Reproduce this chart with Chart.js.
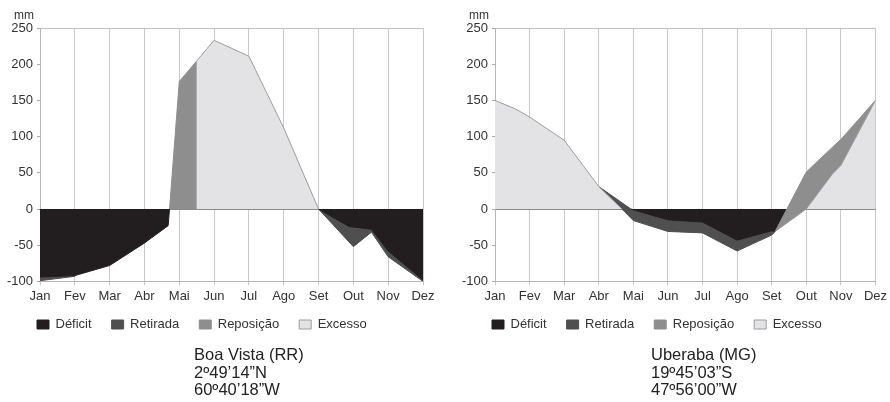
<!DOCTYPE html>
<html>
<head>
<meta charset="utf-8">
<script src="https://cdn.jsdelivr.net/npm/chart.js@4.4.1/dist/chart.umd.min.js"></script>
<style>
  body { margin: 0; background: #fff; font-family: "Liberation Sans", Arial, sans-serif; }
  .wrap { position: relative; width: 890px; height: 402px; }
  .box { position: absolute; top: 0; width: 445px; height: 350px; }
  .place { position: absolute; top: 346px; font-size: 16.5px; line-height: 17.5px; color: #222; }
</style>
</head>
<body>
<div class="wrap">
  <div class="box" style="left:0"><canvas id="bv"></canvas></div>
  <div class="box" style="left:445px"><canvas id="ub"></canvas></div>
  <div class="place" style="left:194px">Boa Vista (RR)<br>2º49’14”N<br>60º40’18”W</div>
  <div class="place" style="left:651px">Uberaba (MG)<br>19º45’03”S<br>47º56’00”W</div>
</div>
<script>
const FONT = '"Liberation Sans", Arial, sans-serif';
const months = ['Jan', 'Fev', 'Mar', 'Abr', 'Mai', 'Jun', 'Jul', 'Ago', 'Set', 'Out', 'Nov', 'Dez'];
const legendNames = ['Déficit', 'Retirada', 'Reposição', 'Excesso'];

// Boa Vista: [month index, mm]
const bvRetiradaIni = [[0, -99], [1, -93]];
const bvDeficitIni = [[0, -94], [1, -92], [2, -78], [3, -47], [3.68, -23], [3.72, 0]];
const bvReposicao = [[3.72, 0], [4, 176], [4.49, 204]];
const bvExcesso = [[4.49, 0], [4.49, 204], [5, 233], [6, 211], [7, 112], [8, 0]];
const bvRetiradaFim = [[8, 0], [9, -52], [9.52, -32], [10, -66], [11, -100]];
const bvDeficitFim = [[8, 0], [8.87, -24], [9.52, -28], [10, -58], [11, -98]];

// Uberaba: [month index, mm]
const ubRetirada = [[3.67, 0], [4, -16], [5, -31], [6, -33], [7, -58], [8, -36], [8.1, -31]];
const ubRetiradaCunha = [[3, 31], [3.93, 0]];
const ubExcessoIni = [[0, 150], [0.6, 138], [1, 127], [2, 95], [3, 31], [3.67, 0]];
const ubDeficit = [[3.93, 0], [4, -1], [5, -15], [6, -18], [7, -43], [8, -30], [8.1, -31], [8.44, 0]];
const ubReposicaoBase = [[8.1, -31], [9, 0], [9.75, 48], [10, 60], [11, 150]];
const ubReposicaoTopo = [[8.1, -31], [9, 51], [9.75, 85], [10, 96], [11, 150]];
const ubExcessoFim = [[9, 0], [9.75, 48], [10, 60], [11, 150]];

const colors = {
  'Déficit': ['#221e1f', '#221e1f'],
  'Retirada': ['#4f4f4f', '#4f4f4f'],
  'Reposição': ['#8e8e8e', '#8e8e8e'],
  'Excesso': ['#e3e3e5', '#9c9c9c']
};

function area(name, pts, opts) {
  return Object.assign({
    label: name,
    data: pts.map(p => ({ x: p[0], y: p[1] })),
    backgroundColor: colors[name][0],
    borderColor: colors[name][1],
    borderWidth: 1,
    pointRadius: 0,
    tension: 0,
    fill: 'origin',
    inLegend: false
  }, opts || {});
}

// "mm" unit above the y axis, and a nudge for the legend row
const extras = {
  id: 'extras',
  afterLayout(chart, args, opts) {
    const l = chart.legend;
    l.left += opts.legendDx; l.right += opts.legendDx;
    l.top += opts.legendDy; l.bottom += opts.legendDy;
  },
  afterDraw(chart) {
    const { ctx, chartArea } = chart;
    ctx.save();
    ctx.font = '12px ' + FONT;
    ctx.fillStyle = '#333';
    ctx.textAlign = 'center';
    ctx.textBaseline = 'middle';
    ctx.fillText('mm', chartArea.left - 16, chartArea.top - 12);
    ctx.restore();
  }
};

function makeChart(id, layers, axisWidth, padRight) {
  // layers listed back to front; Chart.js paints dataset 0 last (on top)
  const datasets = layers.slice().reverse();
  const font = { family: FONT, size: 13 };
  new Chart(document.getElementById(id), {
    type: 'line',
    data: { datasets },
    plugins: [extras],
    options: {
      animation: false,
      responsive: true,
      maintainAspectRatio: false,
      layout: { padding: { left: 0, right: padRight, top: 28, bottom: 0 } },
      plugins: {
        extras: { legendDx: axisWidth - 23, legendDy: -9 },
        legend: {
          position: 'bottom',
          align: 'start',
          labels: {
            boxWidth: 12, boxHeight: 9, padding: 20, color: '#333', font,
            filter: (item, data) => data.datasets[item.datasetIndex].inLegend,
            sort: (a, b) => legendNames.indexOf(a.text) - legendNames.indexOf(b.text)
          }
        },
        tooltip: { enabled: false }
      },
      scales: {
        x: {
          type: 'linear', min: 0, max: 11,
          ticks: { stepSize: 1, autoSkip: false, maxRotation: 0, padding: 3, color: '#333', font,
                   callback: v => months[v] },
          grid: { color: '#c9c9c9', tickLength: 4, tickColor: '#c9c9c9' },
          border: { color: '#b5b5b5' }
        },
        y: {
          min: -100, max: 250,
          ticks: { stepSize: 50, padding: 4, color: '#333', font },
          grid: {
            color: c => c.tick.value === 0 ? '#8a8a8a'
              : (c.tick.value === 250 || c.tick.value === -100 ? '#c0c0c0' : 'rgba(0,0,0,0)'),
            tickLength: 3, tickColor: '#aaa'
          },
          border: { color: '#b5b5b5' },
          afterFit: s => { s.width = axisWidth; }
        }
      }
    }
  });
}

makeChart('bv', [
  area('Retirada', bvRetiradaIni),
  area('Retirada', bvRetiradaFim, { inLegend: true }),
  area('Déficit', bvDeficitIni, { inLegend: true }),
  area('Déficit', bvDeficitFim),
  area('Reposição', bvReposicao, { inLegend: true }),
  area('Excesso', bvExcesso, { inLegend: true })
], 40, 22);

makeChart('ub', [
  area('Retirada', ubRetirada, { inLegend: true }),
  area('Retirada', ubRetiradaCunha),
  area('Excesso', ubExcessoIni, { inLegend: true }),
  area('Déficit', ubDeficit, { inLegend: true }),
  area('Reposição', ubReposicaoBase, { fill: false, borderColor: '#9c9c9c' }),
  area('Reposição', ubReposicaoTopo, { fill: '+1', inLegend: true }),
  area('Excesso', ubExcessoFim)
], 50, 12);
</script>
</body>
</html>
